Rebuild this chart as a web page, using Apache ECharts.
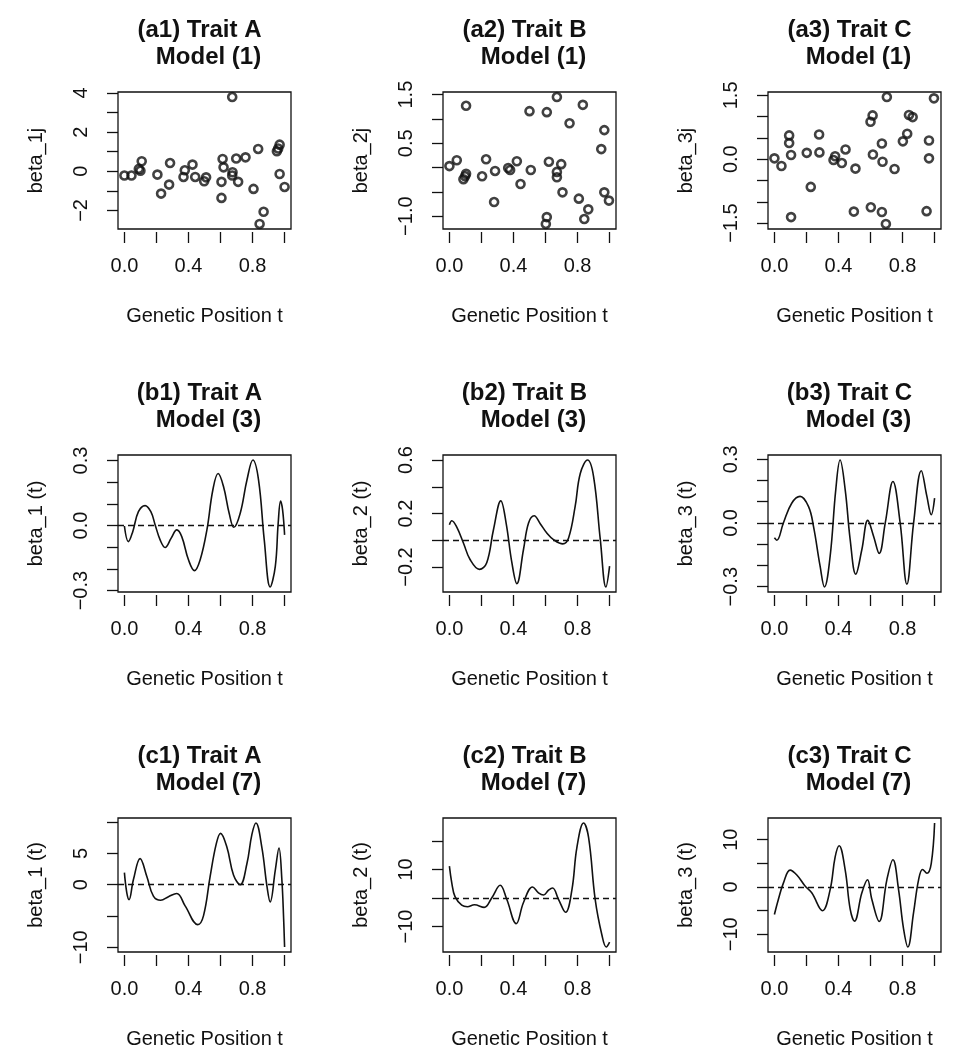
<!DOCTYPE html>
<html>
<head>
<meta charset="utf-8">
<script src="https://cdn.jsdelivr.net/npm/echarts@6/dist/echarts.min.js"></script>
<style>
  html, body { margin: 0; padding: 0; background: #fff; }
  #chart { width: 959px; height: 1050px; }
</style>
</head>
<body>
<div id="chart"></div>
<script>
// shared x axis (genetic position)
const xTicks = [0, 0.2, 0.4, 0.6, 0.8, 1.0];
const xTickLabels = [0, 0.4, 0.8];

// row (a): point estimates, model (1)
const a1Points = [[0.0,-0.22],[0.044,-0.22],[0.09,0.12],[0.10,0.03],[0.108,0.51],[0.206,-0.17],[0.229,-1.14],[0.279,-0.68],[0.285,0.42],[0.369,-0.29],[0.377,0.05],[0.425,0.34],[0.442,-0.29],[0.498,-0.51],[0.51,-0.31],[0.606,-1.36],[0.606,-0.54],[0.613,0.63],[0.619,0.2],[0.673,3.79],[0.675,-0.05],[0.673,-0.22],[0.698,0.65],[0.71,-0.54],[0.756,0.71],[0.806,-0.9],[0.835,1.14],[0.844,-2.69],[0.869,-2.07],[0.952,1.02],[0.96,1.16],[0.969,1.36],[0.969,-0.14],[1.0,-0.8]];
const a2Points = [[0.0,0.03],[0.046,0.15],[0.104,1.27],[0.0875,-0.24],[0.098,-0.18],[0.104,-0.13],[0.204,-0.18],[0.229,0.17],[0.279,-0.71],[0.285,-0.07],[0.367,-0.01],[0.379,-0.05],[0.421,0.13],[0.444,-0.34],[0.5,1.16],[0.508,-0.05],[0.608,1.14],[0.608,-1.02],[0.602,-1.16],[0.621,0.12],[0.671,1.45],[0.671,-0.09],[0.671,-0.2],[0.698,0.07],[0.706,-0.51],[0.75,0.91],[0.808,-0.64],[0.833,1.29],[0.842,-1.06],[0.867,-0.86],[0.948,0.38],[0.967,0.77],[0.967,-0.51],[0.996,-0.68]];
const a3Points = [[0.0,0.02],[0.044,-0.16],[0.092,0.56],[0.092,0.38],[0.104,0.1],[0.104,-1.36],[0.202,0.15],[0.227,-0.65],[0.279,0.58],[0.281,0.16],[0.369,-0.02],[0.379,0.07],[0.421,-0.09],[0.444,0.23],[0.506,-0.22],[0.496,-1.23],[0.6,0.88],[0.613,1.03],[0.615,0.11],[0.602,-1.13],[0.671,0.37],[0.675,-0.06],[0.671,-1.24],[0.702,1.46],[0.696,-1.52],[0.75,-0.23],[0.802,0.42],[0.829,0.6],[0.84,1.04],[0.863,0.99],[0.95,-1.22],[0.965,0.44],[0.965,0.02],[0.996,1.43]];

// row (b): coefficient functions, model (3)
const b1Curve = [[0,-0.002],[0.025,-0.074],[0.052,-0.028],[0.0875,0.064],[0.129,0.092],[0.165,0.064],[0.192,0.003],[0.223,-0.066],[0.254,-0.101],[0.292,-0.058],[0.327,-0.02],[0.358,-0.051],[0.4,-0.158],[0.4375,-0.208],[0.473,-0.158],[0.515,-0.02],[0.552,0.164],[0.585,0.24],[0.619,0.179],[0.654,0.057],[0.683,-0.008],[0.723,0.057],[0.765,0.21],[0.802,0.302],[0.8375,0.21],[0.873,-0.066],[0.91,-0.283],[0.942,-0.188],[0.96,0.011],[0.975,0.113],[0.9875,0.072],[1.0,-0.043]];
const b2Curve = [[0,0.116],[0.015,0.146],[0.046,0.099],[0.0875,-0.02],[0.129,-0.144],[0.1875,-0.218],[0.233,-0.168],[0.275,0.079],[0.321,0.295],[0.354,0.129],[0.39,-0.168],[0.421,-0.324],[0.4625,-0.069],[0.494,0.129],[0.529,0.183],[0.567,0.124],[0.608,0.054],[0.65,0.005],[0.708,-0.027],[0.744,0.017],[0.785,0.253],[0.817,0.5],[0.8625,0.6],[0.9,0.476],[0.942,0.005],[0.977,-0.349],[1.0,-0.193]];
const b3Curve = [[0,-0.07],[0.015,-0.081],[0.056,0],[0.108,0.093],[0.16,0.125],[0.2125,0.078],[0.244,-0.016],[0.285,-0.202],[0.3125,-0.301],[0.348,-0.156],[0.383,0.156],[0.41,0.296],[0.442,0.156],[0.473,-0.078],[0.508,-0.241],[0.546,-0.125],[0.583,0.012],[0.619,-0.062],[0.654,-0.143],[0.692,0],[0.74,0.195],[0.785,0],[0.827,-0.288],[0.869,0],[0.917,0.246],[0.952,0.125],[0.979,0.039],[1.0,0.117]];

// row (c): coefficient functions, model (7)
const c1Curve = [[0,1.92],[0.015,-1.3],[0.029,-2.39],[0.056,0.78],[0.098,4.16],[0.14,1.3],[0.181,-1.82],[0.227,-2.49],[0.275,-1.92],[0.327,-1.4],[0.379,-3.38],[0.458,-6.39],[0.494,-4.94],[0.535,1.3],[0.573,6.49],[0.6,8.21],[0.64,5.97],[0.681,1.56],[0.723,0],[0.765,3.38],[0.796,8.05],[0.821,9.87],[0.858,5.97],[0.89,-0.26],[0.91,-2.75],[0.942,2.34],[0.965,5.87],[0.983,0.78],[0.994,-5.45],[1.0,-9.97]];
const c2Curve = [[0,11.17],[0.015,5.25],[0.035,0.46],[0.077,-2.51],[0.1125,-3.08],[0.156,-2.39],[0.217,-3.31],[0.265,0.11],[0.317,4.45],[0.358,-0.46],[0.417,-9.01],[0.4625,-1.6],[0.519,3.88],[0.556,1.82],[0.5875,1.03],[0.619,2.74],[0.644,3.53],[0.681,-0.46],[0.725,-5.02],[0.765,2.96],[0.796,17.79],[0.8375,26.34],[0.869,21.2],[0.91,-0.46],[0.952,-13.0],[0.979,-17.22],[1.0,-15.51]];
const c3Curve = [[0,-5.84],[0.025,-2.61],[0.056,0.82],[0.098,3.57],[0.14,2.54],[0.19,0.27],[0.233,-1.24],[0.3,-5.02],[0.348,-0.55],[0.379,6.32],[0.404,8.73],[0.442,3.57],[0.473,-4.67],[0.5,-7.22],[0.546,-1.24],[0.581,1.51],[0.608,-2.61],[0.654,-7.29],[0.702,1.51],[0.74,5.77],[0.775,-0.55],[0.806,-8.8],[0.833,-12.71],[0.869,-5.36],[0.9,1.51],[0.925,3.71],[0.952,2.89],[0.979,4.95],[1.0,13.54]];

// y axis ticks / labels per panel
const a1YTicks = [-2, -1, 0, 1, 2, 3, 4],            a1YLabels = [-2, 0, 2, 4];
const a2YTicks = [-1, -0.5, 0, 0.5, 1, 1.5],          a2YLabels = [-1, 0.5, 1.5];
const a3YTicks = [-1.5, -1, -0.5, 0, 0.5, 1, 1.5],    a3YLabels = [-1.5, 0, 1.5];
const b1YTicks = [-0.3, -0.2, -0.1, 0, 0.1, 0.2, 0.3], b1YLabels = [-0.3, 0, 0.3];
const b2YTicks = [-0.2, 0, 0.2, 0.4, 0.6],            b2YLabels = [-0.2, 0.2, 0.6];
const b3YTicks = [-0.3, -0.2, -0.1, 0, 0.1, 0.2, 0.3], b3YLabels = [-0.3, 0, 0.3];
const c1YTicks = [-10, -5, 0, 5, 10],                 c1YLabels = [-10, 0, 5];
const c2YTicks = [-10, 0, 10, 20],                    c2YLabels = [-10, 10];
const c3YTicks = [-10, -5, 0, 5, 10],                 c3YLabels = [-10, 0, 10];

const panels = [
  { t1: '(a1) Trait A', t2: 'Model (1)', yName: 'beta_1j', kind: 'scatter', data: a1Points, ticks: a1YTicks, labels: a1YLabels, dec: 0 },
  { t1: '(a2) Trait B', t2: 'Model (1)', yName: 'beta_2j', kind: 'scatter', data: a2Points, ticks: a2YTicks, labels: a2YLabels, dec: 1 },
  { t1: '(a3) Trait C', t2: 'Model (1)', yName: 'beta_3j', kind: 'scatter', data: a3Points, ticks: a3YTicks, labels: a3YLabels, dec: 1 },
  { t1: '(b1) Trait A', t2: 'Model (3)', yName: 'beta_1 (t)', kind: 'line', data: b1Curve, ticks: b1YTicks, labels: b1YLabels, dec: 1 },
  { t1: '(b2) Trait B', t2: 'Model (3)', yName: 'beta_2 (t)', kind: 'line', data: b2Curve, ticks: b2YTicks, labels: b2YLabels, dec: 1 },
  { t1: '(b3) Trait C', t2: 'Model (3)', yName: 'beta_3 (t)', kind: 'line', data: b3Curve, ticks: b3YTicks, labels: b3YLabels, dec: 1 },
  { t1: '(c1) Trait A', t2: 'Model (7)', yName: 'beta_1 (t)', kind: 'line', data: c1Curve, ticks: c1YTicks, labels: c1YLabels, dec: 0 },
  { t1: '(c2) Trait B', t2: 'Model (7)', yName: 'beta_2 (t)', kind: 'line', data: c2Curve, ticks: c2YTicks, labels: c2YLabels, dec: 0 },
  { t1: '(c3) Trait C', t2: 'Model (7)', yName: 'beta_3 (t)', kind: 'line', data: c3Curve, ticks: c3YTicks, labels: c3YLabels, dec: 0 }
];

const FONT = 'Liberation Sans, Arial, Helvetica, sans-serif';
const INK = '#111';
const colLeft = [118, 443, 768];
const rowTop = [92, 455, 818];
const boxW = 173, boxH = 137;

const fmt = dec => v => {
  const s = Math.abs(v).toFixed(dec);
  return v < 0 ? '\u2212' + s : s;
};

// R style range: data range plus 4% each side
const rRange = pts => {
  const ys = pts.map(p => p[1]);
  const lo = Math.min(...ys), hi = Math.max(...ys);
  const pad = (hi - lo) * 0.04;
  return [lo - pad, hi + pad];
};

const grid = [], xAxis = [], yAxis = [], series = [], title = [];

panels.forEach((p, i) => {
  const left = colLeft[i % 3];
  const top = rowTop[Math.floor(i / 3)];
  const cx = left + boxW / 2;
  const [ymin, ymax] = rRange(p.data);

  grid.push({
    left: left, top: top, width: boxW, height: boxH,
    show: true, borderColor: INK, borderWidth: 1.3, backgroundColor: 'transparent'
  });

  title.push({
    text: p.t1, left: cx - 5, top: top - 62, padding: 0,
    textAlign: 'center', textVerticalAlign: 'middle',
    textStyle: { fontFamily: FONT, fontSize: 24, fontWeight: 'bold', color: INK }
  });
  title.push({
    text: p.t2, left: cx + 4, top: top - 35, padding: 0,
    textAlign: 'center', textVerticalAlign: 'middle',
    textStyle: { fontFamily: FONT, fontSize: 24, fontWeight: 'bold', color: INK }
  });

  xAxis.push({
    type: 'value', gridIndex: i, min: -0.04, max: 1.04, offset: 3,
    axisLine: { show: false, onZero: false },
    splitLine: { show: false },
    axisTick: { show: true, length: 11, customValues: xTicks, lineStyle: { color: INK, width: 1.3 } },
    axisLabel: { customValues: xTickLabels, formatter: fmt(1), margin: 24, fontFamily: FONT, fontSize: 20, color: INK },
    name: 'Genetic Position t', nameLocation: 'middle', nameGap: 74,
    nameTextStyle: { fontFamily: FONT, fontSize: 20, color: INK }
  });

  yAxis.push({
    type: 'value', gridIndex: i, min: ymin, max: ymax,
    axisLine: { show: false, onZero: false },
    splitLine: { show: false },
    axisTick: { show: true, length: 11, customValues: p.ticks, lineStyle: { color: INK, width: 1.3 } },
    axisLabel: { customValues: p.labels, formatter: fmt(p.dec), rotate: 90, margin: 27, fontFamily: FONT, fontSize: 20, color: INK },
    name: p.yName, nameLocation: 'middle', nameRotate: 90, nameGap: 72,
    nameTextStyle: { fontFamily: FONT, fontSize: 20, color: INK }
  });

  if (p.kind === 'scatter') {
    series.push({
      type: 'scatter', xAxisIndex: i, yAxisIndex: i, data: p.data,
      symbol: 'circle', symbolSize: 8,
      itemStyle: { color: 'rgba(0,0,0,0)', borderColor: INK, borderWidth: 2.6 }
    });
  } else {
    series.push({
      type: 'line', xAxisIndex: i, yAxisIndex: i, data: p.data,
      showSymbol: false, smooth: 0.4,
      lineStyle: { color: INK, width: 1.6 },
      markLine: {
        silent: true, symbol: ['none', 'none'], label: { show: false },
        lineStyle: { color: INK, width: 1.4, type: [6, 4] },
        data: [{ yAxis: 0 }]
      }
    });
  }
});

const chart = echarts.init(document.getElementById('chart'), null, { renderer: 'canvas' });
chart.setOption({
  animation: false,
  backgroundColor: '#fff',
  title: title,
  grid: grid,
  xAxis: xAxis,
  yAxis: yAxis,
  series: series
});
</script>
</body>
</html>
